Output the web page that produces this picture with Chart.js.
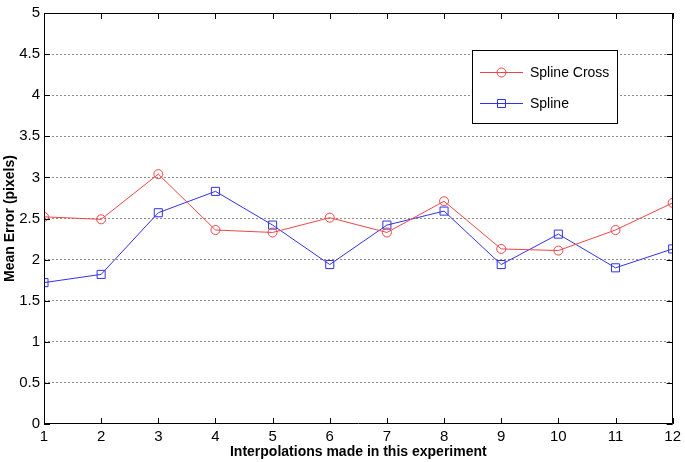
<!DOCTYPE html>
<html>
<head>
<meta charset="utf-8">
<script src="https://cdn.jsdelivr.net/npm/chart.js@4/dist/chart.umd.min.js"></script>
<style>
  html, body { margin: 0; padding: 0; background: #fff; }
  #wrap { width: 685px; height: 462px; }
</style>
</head>
<body>
<div id="wrap"><canvas id="errChart" width="685" height="462"></canvas></div>
<script>
// data
const runs = [1, 2, 3, 4, 5, 6, 7, 8, 9, 10, 11, 12];
const splineCross = [2.52, 2.49, 3.04, 2.36, 2.33, 2.51, 2.33, 2.71, 2.13, 2.11, 2.36, 2.69];
const spline = [1.72, 1.82, 2.57, 2.83, 2.42, 1.94, 2.42, 2.59, 1.94, 2.31, 1.90, 2.13];
const yTicks = [0, 0.5, 1, 1.5, 2, 2.5, 3, 3.5, 4, 4.5, 5];

const RED = 'rgb(238, 70, 70)';
const BLUE = 'rgb(50, 50, 230)';
const FONT = '"Liberation Sans", Arial, Helvetica, sans-serif';

// box, inward ticks and legend like the matlab figure
const matlabFrame = {
    id: 'matlabFrame',
    afterDatasetsDraw(chart) {
        const ctx = chart.ctx;
        const a = chart.chartArea;
        const xs = chart.scales.x, ys = chart.scales.y;
        ctx.save();
        ctx.strokeStyle = '#000';
        ctx.lineWidth = 1;
        ctx.setLineDash([]);
        ctx.beginPath();
        ctx.rect(Math.round(a.left) + 0.5, Math.round(a.top) + 0.5,
                 Math.round(a.right - a.left) - 1, Math.round(a.bottom - a.top) - 1);
        ctx.stroke();
        ctx.beginPath();
        runs.forEach(v => {
            const px = Math.round(xs.getPixelForValue(v)) + 0.5;
            ctx.moveTo(px, a.bottom); ctx.lineTo(px, a.bottom - 6);
            ctx.moveTo(px, a.top); ctx.lineTo(px, a.top + 6);
        });
        yTicks.forEach(v => {
            const py = Math.round(ys.getPixelForValue(v)) + 0.5;
            ctx.moveTo(a.left, py); ctx.lineTo(a.left + 6, py);
            ctx.moveTo(a.right, py); ctx.lineTo(a.right - 6, py);
        });
        ctx.stroke();

        // legend
        const lx = 472.5, ly = 50.5, lw = 145, lh = 73;
        ctx.fillStyle = '#fff';
        ctx.fillRect(lx, ly, lw, lh);
        ctx.strokeRect(lx, ly, lw, lh);
        const items = [
            { label: 'Spline Cross', color: RED, style: 'circle', y: 72 },
            { label: 'Spline', color: BLUE, style: 'rect', y: 103 }
        ];
        ctx.font = '14px ' + FONT;
        ctx.textBaseline = 'middle';
        items.forEach(it => {
            ctx.strokeStyle = it.color;
            ctx.beginPath();
            ctx.moveTo(480, it.y + 0.5);
            ctx.lineTo(523, it.y + 0.5);
            ctx.stroke();
            ctx.beginPath();
            if (it.style === 'circle') {
                ctx.arc(501.5, it.y + 0.5, 4.5, 0, Math.PI * 2);
            } else {
                ctx.rect(497.5, it.y - 3.5, 8, 8);
            }
            ctx.stroke();
            ctx.fillStyle = '#000';
            ctx.fillText(it.label, 530, it.y + 1);
        });
        ctx.restore();
    }
};

const ctxErr = document.getElementById('errChart').getContext('2d');
new Chart(ctxErr, {
    type: 'line',
    data: {
        datasets: [{
            label: 'Spline Cross',
            data: runs.map((r, i) => ({ x: r, y: splineCross[i] })),
            borderColor: RED,
            backgroundColor: 'rgba(0,0,0,0)',
            borderWidth: 1,
            pointStyle: 'circle',
            pointRadius: 4.5,
            pointBorderWidth: 1,
            pointBorderColor: RED,
            pointBackgroundColor: 'rgba(0,0,0,0)',
            tension: 0
        }, {
            label: 'Spline',
            data: runs.map((r, i) => ({ x: r, y: spline[i] })),
            borderColor: BLUE,
            backgroundColor: 'rgba(0,0,0,0)',
            borderWidth: 1,
            pointStyle: 'rect',
            pointRadius: 5.7,
            pointBorderWidth: 1,
            pointBorderColor: BLUE,
            pointBackgroundColor: 'rgba(0,0,0,0)',
            tension: 0
        }]
    },
    options: {
        responsive: false,
        animation: false,
        layout: { padding: { top: 6, right: 7, bottom: 0, left: 0 } },
        plugins: {
            legend: { display: false },
            tooltip: { enabled: false }
        },
        scales: {
            x: {
                type: 'linear',
                min: 1,
                max: 12,
                afterFit(scale) { scale.height = 38; },
                afterBuildTicks(scale) { scale.ticks = runs.map(v => ({ value: v })); },
                grid: { display: false, drawTicks: false },
                border: { display: false },
                ticks: {
                    color: '#000',
                    padding: 4,
                    maxRotation: 0,
                    autoSkip: false,
                    callback: v => String(v),
                    font: { family: FONT, size: 15 }
                },
                title: {
                    display: true,
                    text: 'Interpolations made in this experiment',
                    color: '#000',
                    padding: { top: 0, bottom: 1 },
                    font: { family: FONT, size: 14, weight: 'bold' }
                }
            },
            y: {
                min: 0,
                max: 5,
                afterFit(scale) { scale.width = 44; },
                afterBuildTicks(scale) { scale.ticks = yTicks.map(v => ({ value: v })); },
                grid: {
                    color: ctx => (ctx.tick && (ctx.tick.value === 0 || ctx.tick.value === 5)) ? 'rgba(0,0,0,0)' : '#8c8c8c',
                    lineWidth: 1,
                    drawTicks: false
                },
                border: { display: false, dash: [2, 2] },
                ticks: {
                    color: '#000',
                    padding: 4,
                    autoSkip: false,
                    callback: v => String(v),
                    font: { family: FONT, size: 15 }
                },
                title: {
                    display: true,
                    text: 'Mean Error (pixels)',
                    color: '#000',
                    padding: { top: 2, bottom: 0 },
                    font: { family: FONT, size: 14, weight: 'bold' }
                }
            }
        }
    },
    plugins: [matlabFrame]
});
</script>
</body>
</html>
